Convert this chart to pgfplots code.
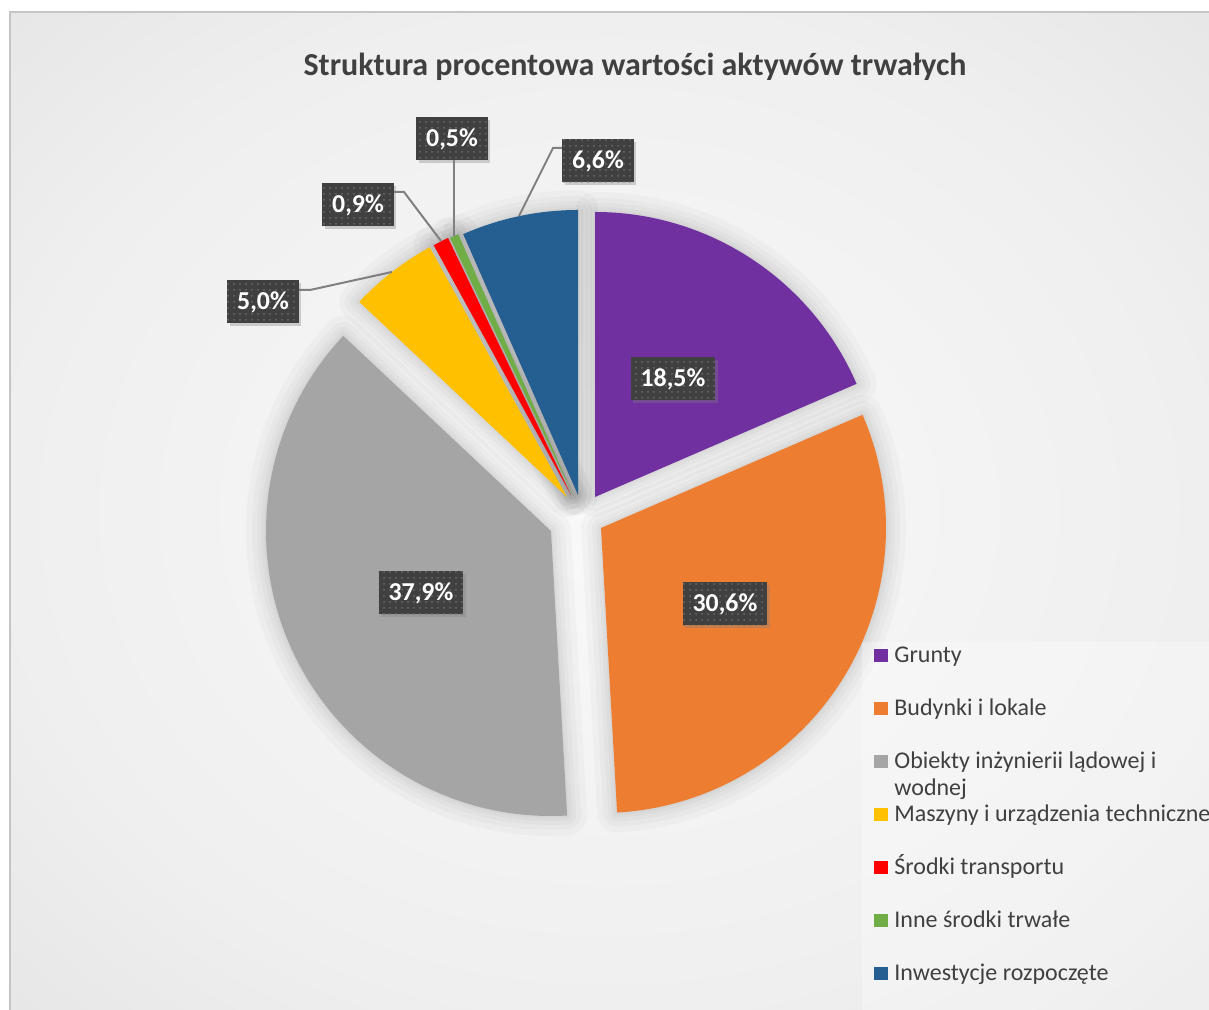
\documentclass[border=0pt]{standalone}
\usepackage{pgfplots}
\pgfplotsset{compat=1.18}
\usepackage{pgfplotstable}
\usepackage{fontspec}
\setmainfont{Carlito}
\usetikzlibrary{shadows,patterns}

\definecolor{cA}{HTML}{7030A0}
\definecolor{cB}{HTML}{ED7D31}
\definecolor{cC}{HTML}{A5A5A5}
\definecolor{cD}{HTML}{FFC000}
\definecolor{cE}{HTML}{FF0000}
\definecolor{cF}{HTML}{70AD47}
\definecolor{cG}{HTML}{255E91}
\definecolor{txt}{HTML}{404040}
\definecolor{boxc}{HTML}{404040}
\definecolor{leadc}{HTML}{808080}
\definecolor{bgA}{HTML}{F9F9F9}
\definecolor{bgB}{HTML}{EFEFEF}
\definecolor{bgC}{HTML}{DBDBDB}
\definecolor{bgD}{HTML}{C5C5C5}
\pgfdeclareradialshading{bgshade}{\pgfpoint{0bp}{0bp}}{color(0bp)=(bgA); color(25bp)=(bgB); color(50bp)=(bgC); color(71bp)=(bgD); color(100bp)=(bgD)}

\pgfkeys{/pgf/number format/.cd, fixed, fixed zerofill, precision=1, use comma, assume math mode=true}

% share in %, tip of the (exploded) slice, label centre -- pixel units, y up
\pgfplotstableread{
share tx  ty  lx  ly  col
18.5  595 513 673 631 cA
30.6  601 482 725 406 cB
37.9  551 479 421 417 cC
5.0   567 513 263 708 cD
0.9   571 515 358 805 cE
0.5   573 515 452 871 cF
6.6   578 515 598 849 cG
}\piedata

\tikzset{
  halo/.style={draw=black, draw opacity=0.022, line join=round},
  lbl/.style={fill=boxc, text=white, font=\bfseries\fontsize{12.9}{15}\selectfont,
    inner xsep=5pt, minimum height=21.5pt,
    drop shadow={shadow xshift=1.2pt, shadow yshift=-1.5pt, opacity=0.35},
    postaction={pattern=dots, pattern color=white!22!boxc}},
  leg/.style={anchor=base west, inner sep=0pt, text=txt, font=\fontsize{12}{14}\selectfont},
}

\newcommand\getrow[1]{%
  \pgfplotstablegetelem{#1}{share}\of\piedata\let\pshare\pgfplotsretval
  \pgfplotstablegetelem{#1}{tx}\of\piedata\let\ptx\pgfplotsretval
  \pgfplotstablegetelem{#1}{ty}\of\piedata\let\pty\pgfplotsretval
  \pgfplotstablegetelem{#1}{lx}\of\piedata\let\plx\pgfplotsretval
  \pgfplotstablegetelem{#1}{ly}\of\piedata\let\ply\pgfplotsretval
  \pgfplotstablegetelem{#1}{col}\of\piedata\let\pcol\pgfplotsretval
  \pgfmathsetmacro\pend{\pstart-3.6*\pshare}%
}
\newcommand\slicepath{(axis cs:\ptx,\pty) -- ([shift={(\pstart:142.5pt)}]axis cs:\ptx,\pty) arc[start angle=\pstart, end angle=\pend, radius=142.5pt] -- cycle}

\begin{document}
\begin{tikzpicture}
\useasboundingbox (0,0) rectangle (604.5pt,505pt);
\clip (0,0) rectangle (604.5pt,505pt);
\begin{axis}[at={(0,0)}, anchor=south west, scale only axis,
    width=604.5pt, height=505pt,
    xmin=0, xmax=1209, ymin=0, ymax=1010, hide axis]

  % chart area
  \shade[shading=bgshade] (axis cs:9,0) rectangle (axis cs:1209,998);
  \draw[color=bgD, line width=1pt] (axis cs:9.5,0) -- (axis cs:9.5,997.5) -- (axis cs:1209,997.5);

  % soft shadow round the slices
  \gdef\pstart{90}
  \pgfplotsinvokeforeach{0,...,6}{
    \getrow{#1}
    \edef\temp{\noexpand\draw[halo, line width=20pt] \slicepath;
      \noexpand\draw[halo, line width=14pt] \slicepath;
      \noexpand\draw[halo, line width=9pt] \slicepath;
      \noexpand\draw[halo, line width=5pt] \slicepath;
      \noexpand\draw[halo, line width=2pt] \slicepath;}
    \temp
    \global\let\pstart\pend
  }

  % slices
  \gdef\pstart{90}
  \pgfplotsinvokeforeach{0,...,6}{
    \getrow{#1}
    \edef\temp{\noexpand\fill[\pcol] \slicepath;}
    \temp
    \global\let\pstart\pend
  }

  % leader lines
  \addplot[leadc, line width=1pt, no marks] coordinates {(299,720) (310,720) (392,738)};
  \addplot[leadc, line width=1pt, no marks] coordinates {(393,818) (404,818) (441,769)};
  \addplot[leadc, line width=1pt, no marks] coordinates {(454,850) (454,774)};
  \addplot[leadc, line width=1pt, no marks] coordinates {(564,862) (553,862) (519,794)};

  % data labels
  \gdef\pstart{90}
  \pgfplotsinvokeforeach{0,...,6}{
    \getrow{#1}
    \edef\temp{\noexpand\node[lbl] at (axis cs:\plx,\ply) {\noexpand\pgfmathprintnumber{\pshare}\noexpand\%};}
    \temp
  }

  % title
  \node[anchor=base, text=txt, font=\bfseries\fontsize{16}{19}\selectfont] at (axis cs:635,934)
    {Struktura procentowa wartości aktywów trwałych};

  % legend
  \fill[white, opacity=0.3] (axis cs:862,0) rectangle (axis cs:1209,368);
  \fill[cA] (axis cs:874,348) rectangle (axis cs:888,361);
  \node[leg] at (axis cs:894,347) {Grunty};
  \fill[cB] (axis cs:874,295) rectangle (axis cs:888,308);
  \node[leg] at (axis cs:894,294) {Budynki i lokale};
  \fill[cC] (axis cs:874,242) rectangle (axis cs:888,255);
  \node[leg] at (axis cs:894,241) {Obiekty inżynierii lądowej i};
  \node[leg] at (axis cs:894,214) {wodnej};
  \fill[cD] (axis cs:874,189) rectangle (axis cs:888,202);
  \node[leg] at (axis cs:894,188) {Maszyny i urządzenia techniczne};
  \fill[cE] (axis cs:874,136) rectangle (axis cs:888,149);
  \node[leg] at (axis cs:894,135) {Środki transportu};
  \fill[cF] (axis cs:874,83) rectangle (axis cs:888,96);
  \node[leg] at (axis cs:894,82) {Inne środki trwałe};
  \fill[cG] (axis cs:874,30) rectangle (axis cs:888,43);
  \node[leg] at (axis cs:894,29) {Inwestycje rozpoczęte};
\end{axis}
\end{tikzpicture}
\end{document}
